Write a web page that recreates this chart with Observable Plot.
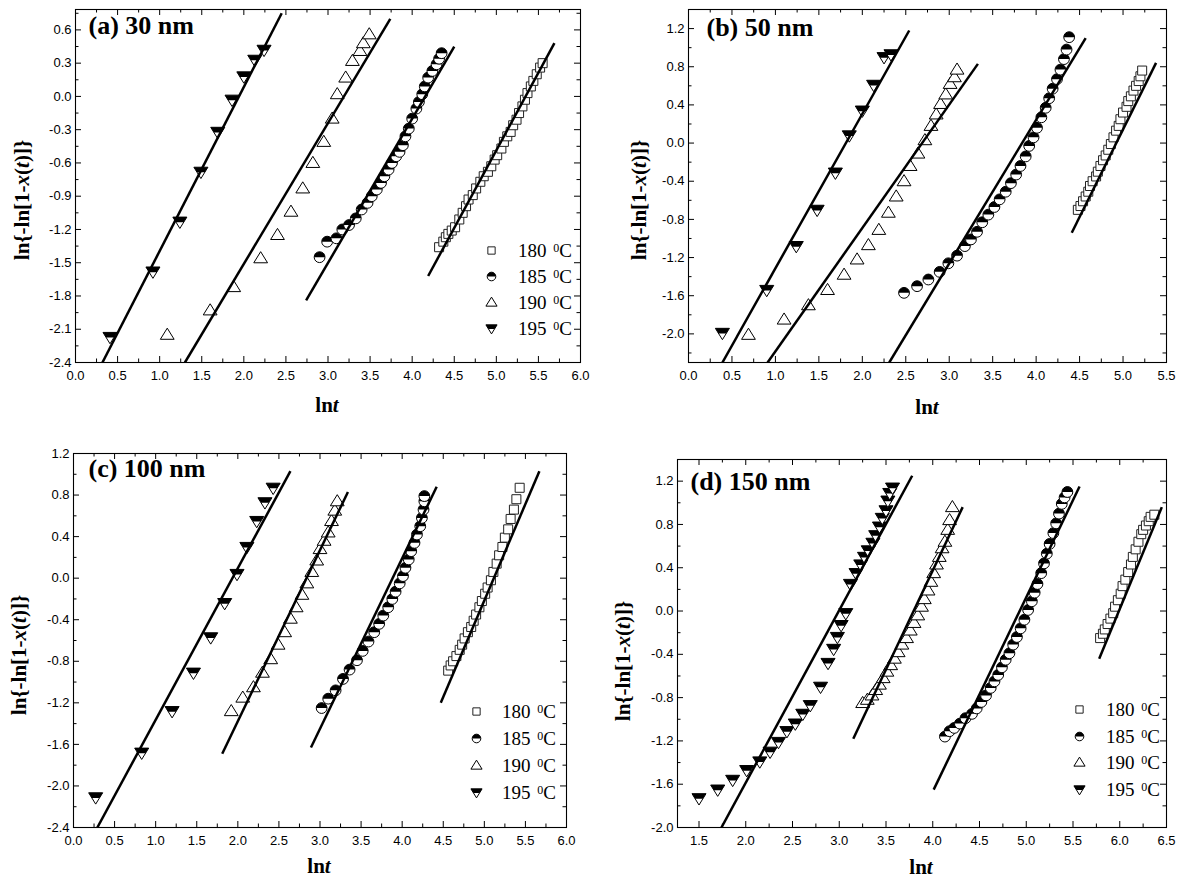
<!DOCTYPE html>
<html><head><meta charset="utf-8">
<script src="https://cdn.jsdelivr.net/npm/d3@7"></script>
<script src="https://cdn.jsdelivr.net/npm/@observablehq/plot@0.6"></script>
<style>
body{margin:0;background:#fff;}
#root{position:relative;width:1185px;height:883px;overflow:hidden;background:#fff;}
.panel{position:absolute;}
.t{position:absolute;white-space:nowrap;color:#000;line-height:1;font-family:"Liberation Serif","Times New Roman",serif;}
.ax{font-size:21px;font-weight:bold;}
.lg{font-size:19px;}
.lg sup{font-size:12px;vertical-align:0;position:relative;top:-0.45em;margin-left:2px;}
</style></head><body><div id="root"></div>
<script>
// ---------- DATA ----------
const temps = ["180", "185", "190", "195"];
// panel (a) 30 nm
const a180x = [4.32,4.37,4.40,4.43,4.47,4.51,4.56,4.60,4.64,4.67,4.72,4.76,4.81,4.85,4.90,4.94,4.98,5.01,5.06,5.09,5.13,5.17,5.20,5.24,5.27,5.31,5.34,5.37,5.41,5.44,5.48,5.52,5.55];
const a180y = [-1.36,-1.31,-1.27,-1.24,-1.21,-1.18,-1.11,-1.05,-0.99,-0.93,-0.89,-0.83,-0.77,-0.72,-0.68,-0.63,-0.57,-0.53,-0.47,-0.41,-0.36,-0.32,-0.26,-0.21,-0.15,-0.09,-0.03,0.03,0.09,0.14,0.20,0.26,0.30];
const a185x = [2.90,2.99,3.10,3.17,3.25,3.33,3.40,3.47,3.52,3.58,3.63,3.67,3.72,3.76,3.81,3.85,3.89,3.92,3.96,4.00,4.05,4.08,4.12,4.15,4.19,4.24,4.29,4.32,4.35];
const a185y = [-1.45,-1.31,-1.28,-1.20,-1.16,-1.10,-1.02,-0.96,-0.90,-0.84,-0.78,-0.72,-0.66,-0.60,-0.54,-0.50,-0.44,-0.36,-0.29,-0.20,-0.11,-0.05,0.02,0.09,0.17,0.23,0.29,0.34,0.39];
const a190x = [1.09,1.60,1.88,2.20,2.40,2.56,2.70,2.82,2.95,3.05,3.11,3.21,3.29,3.38,3.42,3.49];
const a190y = [-2.15,-1.93,-1.72,-1.46,-1.25,-1.04,-0.83,-0.60,-0.41,-0.20,0.02,0.17,0.32,0.41,0.48,0.56];
const a195x = [0.41,0.92,1.24,1.49,1.69,1.86,2.00,2.13,2.24];
const a195y = [-2.17,-1.58,-1.13,-0.68,-0.32,-0.03,0.18,0.33,0.42];
// fitted lines [x0, y0, x1, y1] for 180,185,190,195
const aFits = [[4.19,-1.62,5.69,0.48],[2.74,-1.84,4.50,0.45],[1.30,-2.40,3.74,0.70],[0.32,-2.40,2.45,0.75]];

// panel (b) 50 nm
const b180x = [4.48,4.51,4.54,4.57,4.60,4.62,4.65,4.69,4.71,4.74,4.77,4.80,4.83,4.86,4.89,4.92,4.95,4.97,5.00,5.04,5.06,5.09,5.12,5.15,5.18,5.20,5.22];
const b180y = [-0.70,-0.66,-0.61,-0.56,-0.51,-0.45,-0.40,-0.35,-0.30,-0.24,-0.18,-0.13,-0.07,-0.01,0.06,0.13,0.18,0.25,0.32,0.38,0.44,0.49,0.55,0.60,0.65,0.70,0.76];
const b185x = [2.48,2.63,2.76,2.89,2.99,3.09,3.18,3.25,3.32,3.38,3.45,3.52,3.58,3.65,3.71,3.77,3.82,3.88,3.92,3.97,4.01,4.06,4.11,4.15,4.19,4.24,4.28,4.32,4.35,4.38];
const b185y = [-1.57,-1.50,-1.43,-1.35,-1.26,-1.18,-1.08,-1.01,-0.93,-0.83,-0.75,-0.67,-0.59,-0.51,-0.42,-0.33,-0.24,-0.14,-0.03,0.06,0.16,0.27,0.37,0.47,0.57,0.67,0.77,0.88,0.98,1.11];
const b190x = [0.69,1.10,1.38,1.60,1.79,1.94,2.07,2.19,2.30,2.39,2.48,2.55,2.64,2.72,2.79,2.85,2.90,2.96,3.01,3.06,3.09];
const b190y = [-2.01,-1.85,-1.70,-1.54,-1.38,-1.22,-1.07,-0.91,-0.73,-0.56,-0.40,-0.24,-0.11,0.03,0.18,0.30,0.41,0.51,0.62,0.69,0.77];
const b195x = [0.39,0.90,1.24,1.48,1.69,1.85,2.00,2.13,2.25,2.33];
const b195y = [-1.99,-1.54,-1.08,-0.70,-0.31,0.08,0.34,0.61,0.90,0.93];
const bFits = [[4.41,-0.94,5.38,0.84],[2.31,-2.30,4.57,1.10],[0.91,-2.30,3.33,0.83],[0.39,-2.30,2.54,1.18]];

// panel (c) 100 nm
const c180x = [4.56,4.59,4.62,4.66,4.70,4.73,4.76,4.80,4.84,4.87,4.90,4.94,4.97,5.01,5.04,5.08,5.11,5.15,5.18,5.22,5.25,5.29,5.32,5.36,5.39,5.43];
const c180y = [-0.89,-0.84,-0.80,-0.75,-0.69,-0.64,-0.58,-0.52,-0.47,-0.41,-0.35,-0.28,-0.22,-0.15,-0.09,-0.02,0.06,0.14,0.22,0.30,0.39,0.47,0.57,0.66,0.76,0.87];
const c185x = [3.02,3.10,3.19,3.28,3.36,3.45,3.52,3.59,3.66,3.72,3.77,3.83,3.88,3.92,3.97,4.01,4.04,4.08,4.11,4.15,4.18,4.22,4.24,4.26,4.27,4.27];
const c185y = [-1.25,-1.16,-1.08,-0.97,-0.88,-0.79,-0.70,-0.61,-0.52,-0.44,-0.36,-0.28,-0.20,-0.13,-0.05,0.02,0.10,0.18,0.26,0.34,0.42,0.50,0.58,0.66,0.74,0.79];
const c190x = [1.92,2.06,2.19,2.30,2.40,2.49,2.57,2.64,2.71,2.78,2.84,2.90,2.96,3.00,3.05,3.10,3.14,3.18,3.21];
const c190y = [-1.28,-1.15,-1.05,-0.91,-0.78,-0.64,-0.52,-0.39,-0.28,-0.16,-0.05,0.06,0.17,0.28,0.36,0.44,0.55,0.65,0.74];
const c195x = [0.27,0.83,1.20,1.46,1.67,1.84,1.99,2.11,2.23,2.33,2.43];
const c195y = [-2.11,-1.68,-1.28,-0.91,-0.57,-0.24,0.04,0.30,0.55,0.73,0.87];
const cFits = [[4.47,-1.20,5.67,1.03],[2.89,-1.63,4.42,0.88],[1.81,-1.69,3.34,0.83],[0.29,-2.40,2.64,1.03]];

// panel (d) 150 nm
const d180x = [5.79,5.82,5.84,5.87,5.90,5.93,5.95,5.98,6.01,6.03,6.06,6.09,6.12,6.14,6.17,6.20,6.23,6.25,6.28,6.31,6.33,6.37];
const d180y = [-0.25,-0.21,-0.17,-0.12,-0.07,-0.02,0.04,0.10,0.16,0.23,0.29,0.36,0.43,0.50,0.57,0.64,0.71,0.75,0.79,0.83,0.87,0.89];
const d185x = [4.13,4.18,4.23,4.29,4.35,4.42,4.47,4.52,4.57,4.62,4.66,4.70,4.74,4.78,4.82,4.86,4.90,4.94,4.98,5.02,5.06,5.09,5.12,5.16,5.19,5.22,5.25,5.29,5.32,5.35,5.38,5.41,5.44];
const d185y = [-1.16,-1.11,-1.08,-1.04,-0.99,-0.95,-0.90,-0.84,-0.78,-0.71,-0.65,-0.59,-0.52,-0.45,-0.39,-0.31,-0.24,-0.16,-0.08,0.01,0.09,0.17,0.25,0.35,0.44,0.53,0.62,0.72,0.81,0.90,0.99,1.05,1.10];
const d190x = [3.25,3.30,3.35,3.39,3.43,3.47,3.51,3.55,3.59,3.63,3.67,3.72,3.76,3.80,3.84,3.88,3.91,3.95,3.98,4.01,4.04,4.07,4.10,4.13,4.16,4.18,4.21];
const d190y = [-0.85,-0.82,-0.78,-0.73,-0.68,-0.62,-0.56,-0.50,-0.44,-0.38,-0.31,-0.25,-0.18,-0.11,-0.04,0.04,0.11,0.19,0.27,0.35,0.43,0.50,0.58,0.64,0.75,0.84,0.96];
const d195x = [1.50,1.70,1.86,2.01,2.15,2.26,2.35,2.44,2.53,2.61,2.69,2.80,2.88,2.94,2.98,3.02,3.07,3.12,3.18,3.23,3.27,3.31,3.36,3.39,3.43,3.46,3.50,3.52,3.54,3.57];
const d195y = [-1.73,-1.65,-1.56,-1.47,-1.39,-1.30,-1.21,-1.11,-1.04,-0.95,-0.87,-0.70,-0.48,-0.35,-0.24,-0.13,-0.02,0.25,0.35,0.43,0.50,0.56,0.63,0.70,0.78,0.86,0.93,1.02,1.09,1.14];
const dFits = [[5.78,-0.44,6.45,0.96],[4.01,-1.65,5.57,1.15],[3.15,-1.18,4.32,0.96],[1.74,-2.00,3.78,1.25]];

// ---------- SYMBOLS ----------
const R = (size) => Math.sqrt(size / Math.PI);
const symSquare = {draw(c, size) { const h = 0.85 * R(size); c.moveTo(-h, -h); c.lineTo(h, -h); c.lineTo(h, h); c.lineTo(-h, h); c.closePath(); }};
const symCircle = {draw(c, size) { const r = R(size); c.moveTo(r, 0); c.arc(0, 0, r, 0, 2 * Math.PI); c.closePath(); }};
const symHalfTop = {draw(c, size) { const r = R(size); c.moveTo(-r, 0); c.arc(0, 0, r, Math.PI, 2 * Math.PI); c.closePath(); }};
const symTriUp = {draw(c, size) { const r = R(size); c.moveTo(0, -1.25 * r); c.lineTo(1.3 * r, 0.85 * r); c.lineTo(-1.3 * r, 0.85 * r); c.closePath(); }};
const symTriDown = {draw(c, size) { const r = R(size); c.moveTo(-1.3 * r, -0.85 * r); c.lineTo(1.3 * r, -0.85 * r); c.lineTo(0, 1.25 * r); c.closePath(); }};
const symTriDownTop = {draw(c, size) { const r = R(size); const yb = 0.1 * r, hw = 1.3 * r * (1.25 - 0.1) / 2.1;
  c.moveTo(-1.3 * r, -0.85 * r); c.lineTo(1.3 * r, -0.85 * r); c.lineTo(hw, yb); c.lineTo(-hw, yb); c.closePath(); }};

const kinds = {"180": "sq", "185": "circ", "190": "up", "195": "down"};

function symbolMarks(data, kind, r, opts) {
  const base = {r, stroke: "#000", strokeWidth: 1, ...opts};
  if (kind === "sq") return [Plot.dot(data, {...base, symbol: symSquare, fill: "white", stroke: "#222"})];
  if (kind === "up") return [Plot.dot(data, {...base, symbol: symTriUp, fill: "white"})];
  if (kind === "circ") return [Plot.dot(data, {...base, symbol: symCircle, fill: "white"}), Plot.dot(data, {...base, symbol: symHalfTop, fill: "#000", stroke: "none"})];
  return [Plot.dot(data, {...base, symbol: symTriDown, fill: "white"}), Plot.dot(data, {...base, symbol: symTriDownTop, fill: "#000", stroke: "none"})];
}

function seriesMarks(xs, ys, kind) {
  const pts = xs.map((x, i) => ({x, y: ys[i]}));
  if (kind === "sq" || kind === "up") return symbolMarks(pts, kind, 5.3, {x: "x", y: "y"});
  // half-filled symbols: draw point by point so later points cover earlier ones
  return pts.flatMap(p => symbolMarks([p], kind, 5.4, {x: "x", y: "y"}));
}

const tick = (a, b, s) => d3.range(Math.round((b - a) / s) + 1).map(i => +(a + i * s).toFixed(3));

// ---------- PANELS ----------
const root = document.getElementById("root");

function panel(cfg) {
  const [x0, x1] = cfg.xd, [y0, y1] = cfg.yd;
  const marks = [];
  cfg.series.forEach((s, i) => marks.push(...seriesMarks(s[0], s[1], kinds[temps[i]])));
  marks.push(Plot.link(cfg.fits, {x1: d => d[0], y1: d => d[1], x2: d => d[2], y2: d => d[3], stroke: "#000", strokeWidth: 2.5, clip: true}));
  marks.push(Plot.frame({stroke: "#000", strokeWidth: 1.1}));
  const tk = (vals, len) => [
    Plot.ruleX(vals, {x: d => d, y1: y0, y2: y0, insetBottom: len, stroke: "#000"}),
    Plot.ruleX(vals, {x: d => d, y1: y1, y2: y1, insetBottom: -len, stroke: "#000"})
  ];
  const tky = (vals, len) => [
    Plot.ruleY(vals, {y: d => d, x1: x0, x2: x0, insetRight: -len, stroke: "#000"}),
    Plot.ruleY(vals, {y: d => d, x1: x1, x2: x1, insetRight: len, stroke: "#000"})
  ];
  marks.push(...tk(cfg.xt, 6), ...tk(cfg.xm, 3.5), ...tky(cfg.yt, 6), ...tky(cfg.ym, 3.5));
  marks.push(Plot.axisX({ticks: cfg.xt, tickSize: 0, tickPadding: 8, tickFormat: d => d.toFixed(1), fontSize: 13, label: null}));
  marks.push(Plot.axisY({ticks: cfg.yt, tickSize: 0, tickPadding: 4, tickFormat: d => d.toFixed(1), fontSize: 13, label: null}));
  marks.push(Plot.text([cfg.title], {text: d => d, frameAnchor: "top-left", dx: cfg.tdx, dy: cfg.tdy, textAnchor: "start", lineAnchor: "top", fontSize: 26, fontWeight: "bold", fontFamily: "Liberation Serif"}));
  if (cfg.legend) {
    const L = cfg.legend;
    temps.forEach((t, i) => {
      marks.push(...symbolMarks([0], kinds[t], 4.3, {frameAnchor: "bottom-right", dx: L.dx, dy: L.dy[i]}));
    });
  }
  const chart = Plot.plot({
    width: cfg.w, height: cfg.h,
    marginLeft: cfg.ml, marginRight: cfg.mr, marginTop: cfg.mt, marginBottom: cfg.mb,
    x: {domain: cfg.xd}, y: {domain: cfg.yd},
    style: {fontFamily: "Liberation Sans, Arial, sans-serif", fontSize: "13px", background: "transparent", overflow: "visible", color: "#000"},
    marks
  });
  const div = document.createElement("div");
  div.className = "panel";
  div.style.left = cfg.left + "px"; div.style.top = cfg.top + "px";
  div.appendChild(chart);
  root.appendChild(div);

  // axis titles and legend text
  addText(`<span class="ax">ln<i>t</i></span>`, cfg.xtitle[0], cfg.xtitle[1], "translate(-50%,-50%)");
  addText(`<span class="ax">ln{-ln[1-<i>x</i>(<i>t</i>)]}</span>`, cfg.ytitle[0], cfg.ytitle[1], "translate(-50%,-50%) rotate(-90deg)");
  if (cfg.legend) {
    temps.forEach((t, i) => addText(`<span class="lg">${t} <sup>0</sup>C</span>`, cfg.legend.tx, cfg.legend.ty[i], "translate(0,-50%)"));
  }
}

function addText(html, x, y, transform) {
  const d = document.createElement("div");
  d.className = "t";
  d.innerHTML = html;
  d.style.left = x + "px"; d.style.top = y + "px";
  d.style.transform = transform;
  root.appendChild(d);
}

panel({
  left: 0, top: 0, w: 590, h: 430, ml: 75, mr: 10, mt: 9, mb: 68,
  xd: [0, 6], yd: [-2.4, 0.784],
  xt: tick(0, 6, 0.5), xm: tick(0.25, 5.75, 0.5), yt: tick(-2.4, 0.6, 0.3), ym: tick(-2.25, 0.75, 0.3),
  series: [[a180x, a180y], [a185x, a185y], [a190x, a190y], [a195x, a195y]], fits: aFits,
  title: "(a) 30 nm", tdx: 13, tdy: 6,
  legend: {dx: -89, dy: [-112, -86, -60, -34], tx: 518, ty: [250, 276, 302, 328]},
  xtitle: [327, 405], ytitle: [22, 200]
});
panel({
  left: 590, top: 0, w: 595, h: 430, ml: 98, mr: 19, mt: 9, mb: 68,
  xd: [0, 5.5], yd: [-2.3, 1.4],
  xt: tick(0, 5.5, 0.5), xm: tick(0.25, 5.25, 0.5), yt: tick(-2.0, 1.2, 0.4), ym: tick(-2.2, 1.0, 0.4),
  series: [[b180x, b180y], [b185x, b185y], [b190x, b190y], [b195x, b195y]], fits: bFits,
  title: "(b) 50 nm", tdx: 18, tdy: 8,
  legend: null,
  xtitle: [927, 407], ytitle: [639, 200]
});
panel({
  left: 0, top: 430, w: 590, h: 453, ml: 73, mr: 24, mt: 23, mb: 56,
  xd: [0, 6], yd: [-2.4, 1.2],
  xt: tick(0, 6, 0.5), xm: tick(0.25, 5.75, 0.5), yt: tick(-2.4, 1.2, 0.4), ym: tick(-2.2, 1.0, 0.4),
  series: [[c180x, c180y], [c185x, c185y], [c190x, c190y], [c195x, c195y]], fits: cFits,
  title: "(c) 100 nm", tdx: 15, tdy: 5,
  legend: {dx: -90, dy: [-116, -89, -62, -35], tx: 502, ty: [711, 738, 765, 792]},
  xtitle: [319, 866], ytitle: [19, 655]
});
panel({
  left: 590, top: 430, w: 595, h: 453, ml: 87, mr: 19, mt: 29, mb: 56,
  xd: [1.27, 6.5], yd: [-2.0, 1.4],
  xt: tick(1.5, 6.5, 0.5), xm: tick(1.75, 6.25, 0.5), yt: tick(-2.0, 1.2, 0.4), ym: tick(-1.8, 1.0, 0.4),
  series: [[d180x, d180y], [d185x, d185y], [d190x, d190y], [d195x, d195y]], fits: dFits,
  title: "(d) 150 nm", tdx: 13, tdy: 12,
  legend: {dx: -87, dy: [-118, -91, -65, -38], tx: 1106, ty: [709, 736, 762, 789]},
  xtitle: [921, 867], ytitle: [623, 661]
});
</script></body></html>
